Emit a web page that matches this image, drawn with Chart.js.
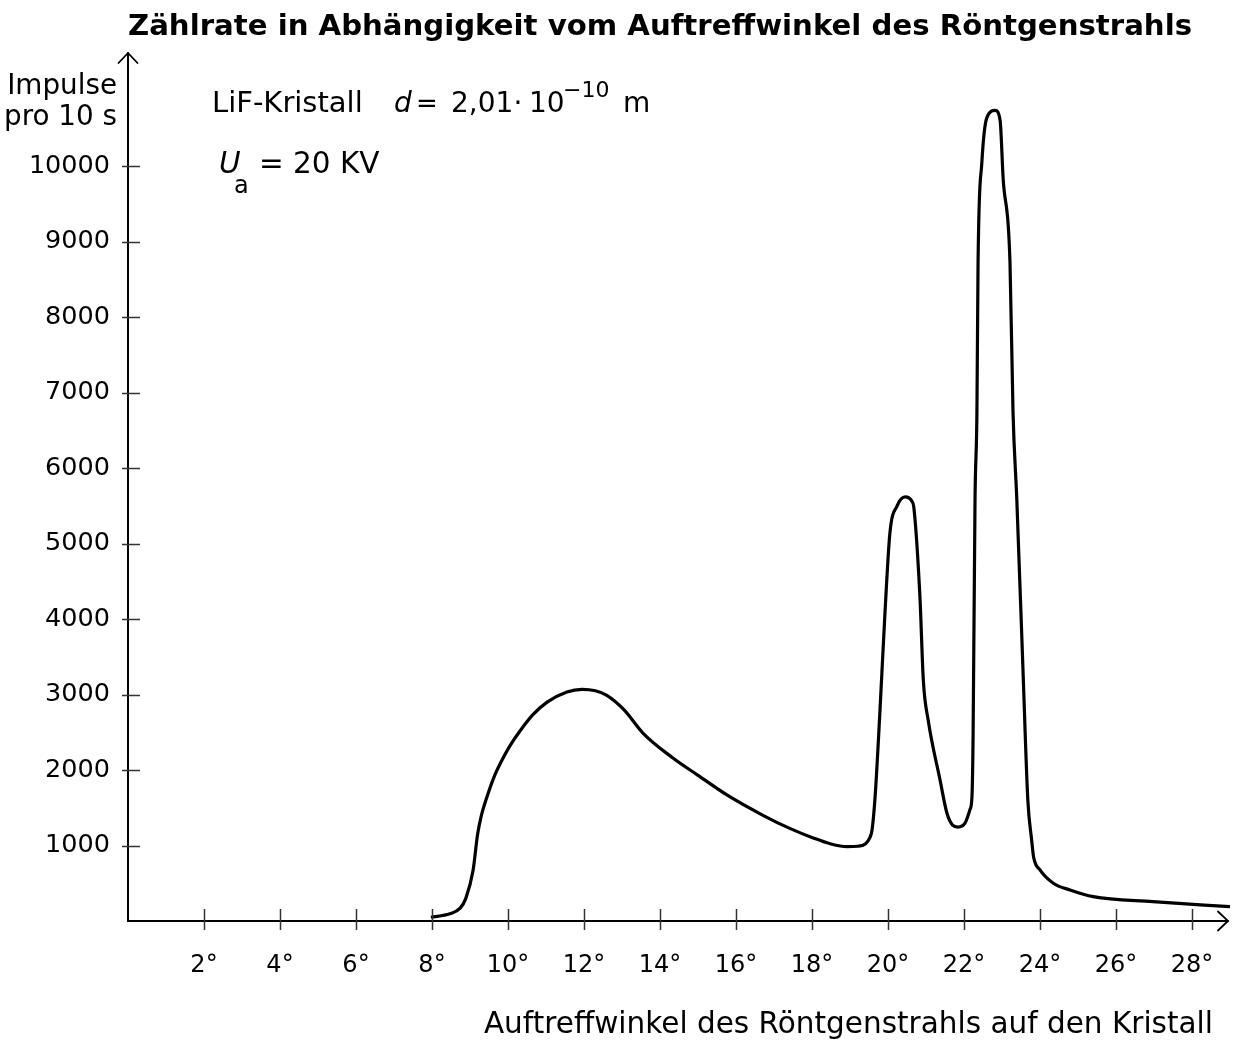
<!DOCTYPE html>
<html>
<head>
<meta charset="utf-8">
<script src="https://cdn.jsdelivr.net/npm/chart.js@4.4.1/dist/chart.umd.min.js"></script>
<style>
  html, body { margin: 0; padding: 0; background: #fff; }
  canvas { display: block; }
</style>
</head>
<body>
<canvas id="c" width="1233" height="1041"></canvas>
<script>
// ---- data ----
const angles = [7.97, 8.47, 8.74, 8.89, 9.08, 9.2, 9.3, 9.45, 9.65, 9.84, 10.05, 10.32, 10.65, 11.03, 11.55, 11.95, 12.3, 12.6, 13.05, 13.55, 14.34, 15.0, 15.76, 16.71, 17.4, 18.03, 18.5, 18.92, 19.2, 19.4, 19.52, 19.58, 19.66, 19.79, 19.92, 20.05, 20.24, 20.45, 20.63, 20.68, 20.84, 20.93, 21.06, 21.37, 21.55, 21.70, 21.84, 22.03, 22.16, 22.21, 22.24, 22.29, 22.34, 22.37, 22.47, 22.6, 22.82, 22.95, 23.03, 23.21, 23.29, 23.39, 23.55, 23.68, 23.78, 23.83, 24.0, 24.35, 24.79, 25.4, 26.97, 29.0];
const counts = [50, 95, 170, 300, 670, 1150, 1400, 1650, 1930, 2130, 2320, 2520, 2730, 2900, 3035, 3070, 3050, 2990, 2800, 2490, 2160, 1930, 1670, 1400, 1230, 1100, 1020, 985, 990, 1020, 1100, 1205, 1640, 2800, 4080, 5140, 5500, 5620, 5560, 5480, 4297, 3184, 2654, 1868, 1430, 1270, 1245, 1300, 1480, 1650, 2490, 5580, 6740, 8730, 10050, 10640, 10740, 10610, 9840, 8730, 6740, 5580, 3360, 1600, 1073, 852, 676, 500, 411, 322, 256, 190];
const xTicks = [2, 4, 6, 8, 10, 12, 14, 16, 18, 20, 22, 24, 26, 28];
const yTicks = [1000, 2000, 3000, 4000, 5000, 6000, 7000, 8000, 9000, 10000];
const xMax = 29;
const yMax = 11500;

const titleText = 'Zählrate in Abhängigkeit vom Auftreffwinkel des Röntgenstrahls';
const xAxisTitle = 'Auftreffwinkel des Röntgenstrahls auf den Kristall';
const yAxisTitle = ['Impulse', 'pro 10 s'];

const FONT = '"DejaVu Sans", Verdana, sans-serif';

const points = angles.map((a, i) => ({ x: a, y: counts[i] }));

const decor = {
  id: 'decor',
  afterDraw(chart) {
    const ctx = chart.ctx;
    const xs = chart.scales.x, ys = chart.scales.y;
    const x0 = xs.getPixelForValue(0), y0 = ys.getPixelForValue(0);
    const xEnd = xs.getPixelForValue(xMax) - 2, yEnd = ys.getPixelForValue(yMax);
    ctx.save();
    ctx.strokeStyle = '#000';
    ctx.lineWidth = 2;
    ctx.lineCap = 'round';
    // axes
    ctx.beginPath();
    ctx.moveTo(x0, yEnd); ctx.lineTo(x0, y0); ctx.lineTo(xEnd, y0);
    ctx.stroke();
    // arrows
    ctx.lineWidth = 1.8;
    ctx.beginPath();
    ctx.moveTo(x0 - 9.5, yEnd + 10); ctx.lineTo(x0, yEnd); ctx.lineTo(x0 + 9.5, yEnd + 10);
    ctx.moveTo(xEnd - 10, y0 - 9.5); ctx.lineTo(xEnd, y0); ctx.lineTo(xEnd - 10, y0 + 9.5);
    ctx.stroke();
    // tick marks
    ctx.strokeStyle = '#333';
    ctx.lineWidth = 1.5;
    ctx.lineCap = 'butt';
    ctx.beginPath();
    xTicks.forEach(v => {
      const px = Math.round(xs.getPixelForValue(v)) + 0.5;
      ctx.moveTo(px, y0 - 12); ctx.lineTo(px, y0 + 9);
    });
    yTicks.forEach(v => {
      const py = Math.round(ys.getPixelForValue(v)) + 0.5;
      ctx.moveTo(x0 - 6, py); ctx.lineTo(x0 + 12, py);
    });
    ctx.stroke();

    ctx.fillStyle = '#000';
    ctx.textBaseline = 'alphabetic';
    // title
    ctx.font = 'bold 29.2px ' + FONT;
    ctx.textAlign = 'center';
    ctx.fillText(titleText, 660, 35);
    // y axis title
    ctx.font = '27.8px ' + FONT;
    ctx.textAlign = 'right';
    ctx.fillText(yAxisTitle[0], 117, 94);
    ctx.fillText(yAxisTitle[1], 117, 125);
    // x axis title
    ctx.font = '29.5px ' + FONT;
    ctx.textAlign = 'right';
    ctx.fillText(xAxisTitle, 1213, 1033);
    // annotations
    ctx.textAlign = 'left';
    ctx.font = '29px ' + FONT;
    ctx.fillText('LiF-Kristall', 212, 112);
    ctx.font = 'italic 28px ' + FONT;
    ctx.fillText('d', 394, 112);
    ctx.font = '26px ' + FONT;
    ctx.fillText('=', 416, 112);
    ctx.font = '28px ' + FONT;
    ctx.fillText('2,01', 451, 112);
    ctx.textAlign = 'center';
    ctx.fillText('·', 518, 112);
    ctx.textAlign = 'left';
    ctx.fillText('10', 529, 112);
    ctx.font = '22px ' + FONT;
    ctx.fillText('\u221210', 563, 97);
    ctx.font = '28px ' + FONT;
    ctx.fillText('m', 623, 112);
    ctx.font = 'italic 29.5px ' + FONT;
    ctx.fillText('U', 219, 173);
    ctx.font = '24px ' + FONT;
    ctx.fillText('a', 234, 193);
    ctx.font = '29.5px ' + FONT;
    ctx.fillText('= 20 KV', 259, 173);
    ctx.restore();
  }
};

new Chart(document.getElementById('c'), {
  type: 'line',
  data: {
    datasets: [{
      data: points,
      borderColor: '#000',
      borderWidth: 3.2,
      pointRadius: 0,
      fill: false,
      cubicInterpolationMode: 'monotone'
    }]
  },
  options: {
    responsive: false,
    devicePixelRatio: 1,
    animation: false,
    layout: { padding: { top: 53, right: 3, bottom: 0, left: 0 } },
    plugins: { legend: { display: false }, tooltip: { enabled: false }, title: { display: false } },
    scales: {
      x: {
        type: 'linear',
        min: 0, max: xMax,
        grid: { display: false, drawTicks: false },
        border: { display: false },
        afterFit: s => { s.height = 120; s.paddingLeft = 0; s.paddingRight = 0; },
        afterBuildTicks: s => { s.ticks = xTicks.map(v => ({ value: v })); },
        ticks: {
          padding: 30,
          color: '#000',
          font: { family: FONT, size: 24 },
          maxRotation: 0,
          autoSkip: false,
          callback: v => v + '°'
        }
      },
      y: {
        type: 'linear',
        min: 0, max: yMax,
        grid: { display: false, drawTicks: false },
        border: { display: false },
        afterFit: s => { s.width = 128; s.paddingTop = 0; s.paddingBottom = 0; },
        afterBuildTicks: s => { s.ticks = yTicks.map(v => ({ value: v })); },
        ticks: {
          padding: 18,
          color: '#000',
          font: { family: FONT, size: 25.5 },
          autoSkip: false,
          callback: v => String(v)
        }
      }
    }
  },
  plugins: [decor]
});
</script>
</body>
</html>
